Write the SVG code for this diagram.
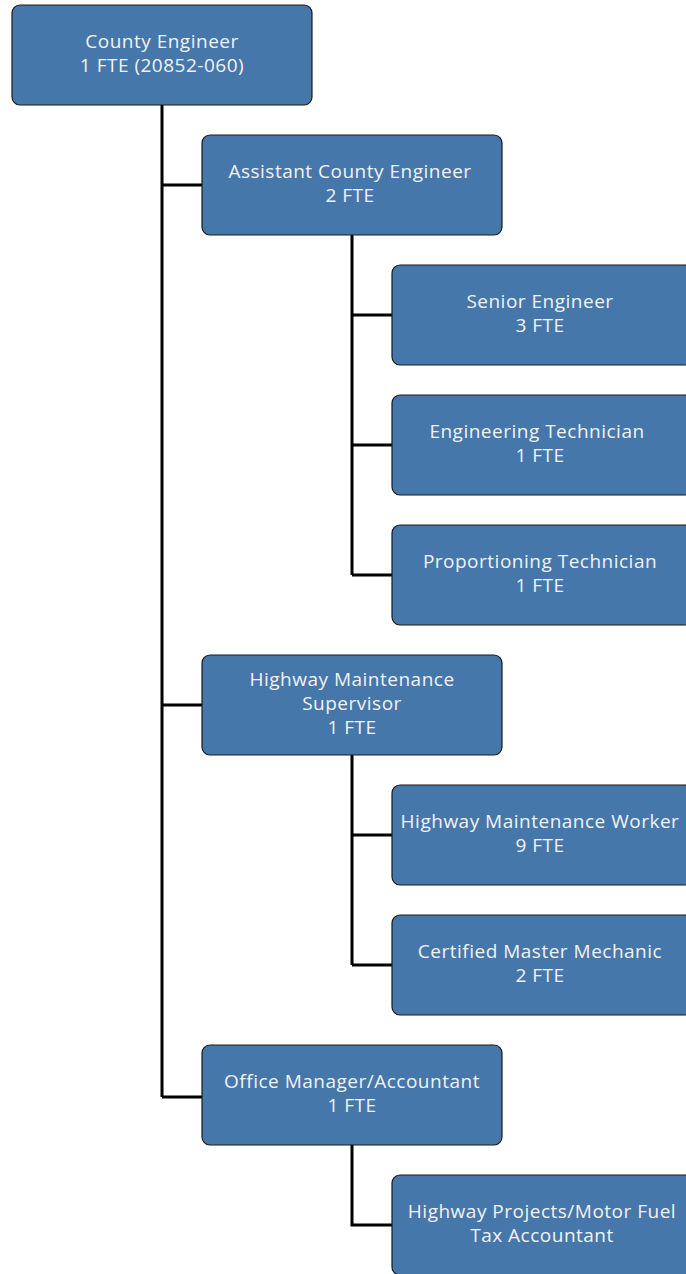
<svg xmlns="http://www.w3.org/2000/svg" width="686" height="1274" viewBox="0 0 686 1274">
<style>
.box{fill:#4677aa;stroke:#1a1a1a;stroke-width:1.2}
.t{font-family:"Open Sans","Noto Sans",sans-serif;font-size:19px;letter-spacing:0.5px;fill:#f2f2f2;text-anchor:middle}
.c{fill:none;stroke:#000;stroke-width:3}
</style>
<rect width="686" height="1274" fill="#fff"/>
<g id="connectors">
<path class="c" d="M162 105V1097M162 185H202M162 705H202M162 1097H202"/>
<path class="c" d="M352 235V575M352 315H392M352 445H392M352 575H392"/>
<path class="c" d="M352 755V965M352 835H392M352 965H392"/>
<path class="c" d="M352 1145V1225H392"/>
</g>
<g id="county-engineer"><rect class="box" x="12" y="5" width="300" height="100" rx="8"/><text class="t" x="162" y="48">County Engineer</text><text class="t" x="162" y="72">1 FTE (20852-060)</text></g>
<g id="assistant-county-engineer"><rect class="box" x="202" y="135" width="300" height="100" rx="8"/><text class="t" x="350" y="178">Assistant County Engineer</text><text class="t" x="350" y="202">2 FTE</text></g>
<g id="senior-engineer"><rect class="box" x="392" y="265" width="300" height="100" rx="8"/><text class="t" x="540" y="308">Senior Engineer</text><text class="t" x="540" y="332">3 FTE</text></g>
<g id="engineering-technician"><rect class="box" x="392" y="395" width="300" height="100" rx="8"/><text class="t" x="537" y="438">Engineering Technician</text><text class="t" x="540" y="462">1 FTE</text></g>
<g id="proportioning-technician"><rect class="box" x="392" y="525" width="300" height="100" rx="8"/><text class="t" x="540" y="568">Proportioning Technician</text><text class="t" x="540" y="592">1 FTE</text></g>
<g id="highway-maintenance-supervisor"><rect class="box" x="202" y="655" width="300" height="100" rx="8"/><text class="t" x="352" y="686">Highway Maintenance</text><text class="t" x="352" y="710">Supervisor</text><text class="t" x="352" y="734">1 FTE</text></g>
<g id="highway-maintenance-worker"><rect class="box" x="392" y="785" width="300" height="100" rx="8"/><text class="t" x="540" y="828">Highway Maintenance Worker</text><text class="t" x="540" y="852">9 FTE</text></g>
<g id="certified-master-mechanic"><rect class="box" x="392" y="915" width="300" height="100" rx="8"/><text class="t" x="540" y="958">Certified Master Mechanic</text><text class="t" x="540" y="982">2 FTE</text></g>
<g id="office-manager-accountant"><rect class="box" x="202" y="1045" width="300" height="100" rx="8"/><text class="t" x="352" y="1088">Office Manager/Accountant</text><text class="t" x="352" y="1112">1 FTE</text></g>
<g id="highway-projects-accountant"><rect class="box" x="392" y="1175" width="300" height="100" rx="8"/><text class="t" x="542" y="1218">Highway Projects/Motor Fuel</text><text class="t" x="542" y="1242">Tax Accountant</text></g>
</svg>
